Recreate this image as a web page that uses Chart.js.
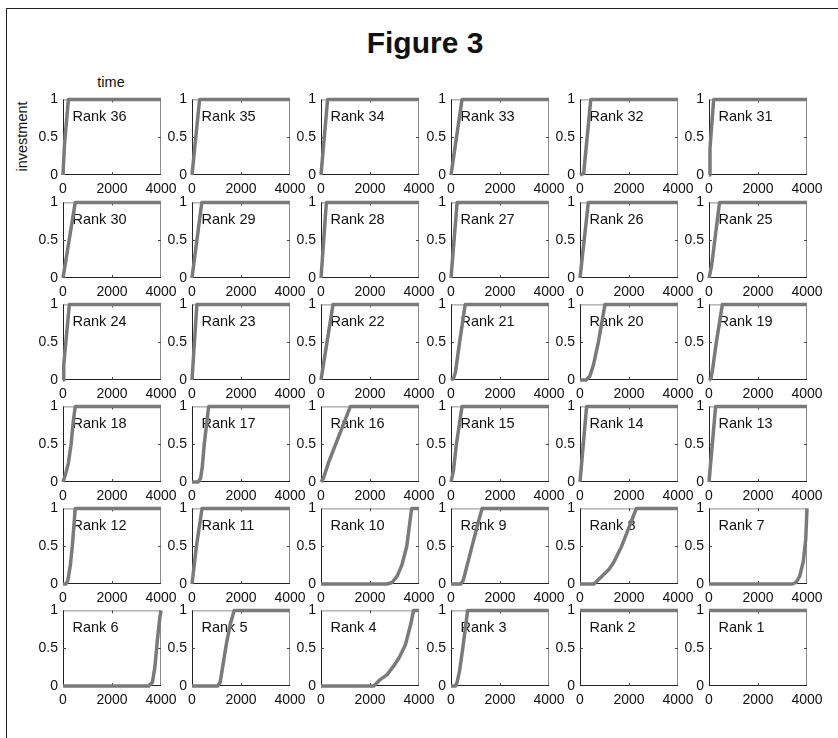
<!DOCTYPE html>
<html>
<head>
<meta charset="utf-8">
<script src="https://cdn.jsdelivr.net/npm/chart.js@4.4.1/dist/chart.umd.min.js"></script>
<style>
  html, body { margin: 0; padding: 0; background: #fff; }
  body { position: relative; width: 838px; height: 738px; overflow: hidden;
         font-family: "Liberation Sans", Arial, Helvetica, sans-serif; color: #111; }
  #frame { position: absolute; left: 6px; top: 8px; width: 900px; height: 800px;
           border-left: 1px solid #222; border-top: 1px solid #222; }
  #title { position: absolute; left: 0; width: 850px; top: 26px; line-height: 34px;
           text-align: center; font-weight: bold; font-size: 30px; }
  #xname { position: absolute; left: 80px; width: 62px; top: 74px; line-height: 17px;
           text-align: center; font-size: 14.5px; }
  #yname { position: absolute; left: -28px; width: 100px; top: 128px; line-height: 17px;
           text-align: center; font-size: 14.5px; transform: rotate(-90deg); }
  canvas { position: absolute; }
</style>
</head>
<body>
<div id="frame"></div>
<div id="title">Figure 3</div>
<div id="xname">time</div>
<div id="yname">investment</div>
<script>
// Investment level over time for each rank: [time, investment] pairs.
const rank36 = [[0,0],[60,0.4],[220,1],[4000,1]];
const rank35 = [[0,0],[310,1],[4000,1]];
const rank34 = [[0,0],[270,1],[4000,1]];
const rank33 = [[0,0],[450,1],[4000,1]];
const rank32 = [[0,0],[150,0.02],[440,1],[4000,1]];
const rank31 = [[0,0],[40,0.35],[190,1],[4000,1]];
const rank30 = [[0,0],[500,1],[4000,1]];
const rank29 = [[0,0],[400,1],[4000,1]];
const rank28 = [[0,0],[220,1],[4000,1]];
const rank27 = [[0,0],[250,1],[4000,1]];
const rank26 = [[0,0],[340,1],[4000,1]];
const rank25 = [[0,0],[100,0.15],[430,1],[4000,1]];
const rank24 = [[0,0],[30,0.2],[260,1],[4000,1]];
const rank23 = [[0,0],[200,1],[4000,1]];
const rank22 = [[0,0],[490,1],[4000,1]];
const rank21 = [[0,0],[100,0.02],[180,0.1],[350,0.5],[580,1],[4000,1]];
const rank20 = [[0,0],[250,0],[400,0.05],[550,0.2],[750,0.5],[1020,1],[4000,1]];
const rank19 = [[0,0],[80,0.02],[150,0.15],[300,0.5],[545,1],[4000,1]];
const rank18 = [[0,0],[100,0.1],[220,0.25],[330,0.5],[420,0.8],[500,1],[4000,1]];
const rank17 = [[0,0],[250,0],[350,0.05],[420,0.2],[500,0.5],[680,1],[4000,1]];
const rank16 = [[0,0],[100,0.05],[300,0.25],[600,0.5],[1200,1],[4000,1]];
const rank15 = [[0,0],[100,0.15],[220,0.5],[450,1],[4000,1]];
const rank14 = [[0,0],[270,1],[4000,1]];
const rank13 = [[0,0],[270,1],[4000,1]];
const rank12 = [[0,0],[120,0],[200,0.05],[300,0.25],[380,0.5],[500,1],[4000,1]];
const rank11 = [[0,0],[180,0.5],[410,1],[4000,1]];
const rank10 = [[0,0],[2700,0],[2900,0.02],[3100,0.1],[3300,0.25],[3500,0.5],[3700,1],[4000,1]];
const rank9  = [[0,0],[400,0],[500,0.05],[700,0.3],[900,0.55],[1100,0.8],[1270,1],[4000,1]];
const rank8  = [[0,0],[570,0],[1200,0.2],[1400,0.3],[1700,0.5],[2000,0.75],[2300,1],[4000,1]];
const rank7  = [[0,0],[3400,0],[3550,0.02],[3700,0.1],[3850,0.3],[3950,0.6],[4000,1]];
const rank6  = [[0,0],[3500,0],[3650,0.05],[3750,0.25],[3850,0.6],[3950,0.9],[4000,1]];
const rank5  = [[0,0],[1050,0],[1150,0.05],[1300,0.35],[1400,0.55],[1550,0.8],[1720,1],[4000,1]];
const rank4  = [[0,0],[2150,0],[2400,0.08],[2700,0.15],[3000,0.28],[3200,0.38],[3450,0.55],[3650,0.8],[3780,1],[4000,1]];
const rank3  = [[0,0],[180,0],[250,0.05],[350,0.2],[480,0.5],[580,0.75],[680,1],[4000,1]];
const rank2  = [[0,1],[4000,1]];
const rank1  = [[0,1],[4000,1]];

// Panel order, left to right then top to bottom.
const rankOrder = [36,35,34,33,32,31,30,29,28,27,26,25,24,23,22,21,20,19,18,17,16,15,14,13,12,11,10,9,8,7,6,5,4,3,2,1];
const rankSeries = [rank1,rank2,rank3,rank4,rank5,rank6,rank7,rank8,rank9,rank10,rank11,rank12,
  rank13,rank14,rank15,rank16,rank17,rank18,rank19,rank20,rank21,rank22,rank23,rank24,
  rank25,rank26,rank27,rank28,rank29,rank30,rank31,rank32,rank33,rank34,rank35,rank36];

const xTicks = [0, 2000, 4000];
const yTicks = [0, 0.5, 1];

// Grid geometry of the panels (plot-area corners, px).
const colLeft = [63, 192, 321, 451, 580, 709];
const rowTop  = [98, 201, 303, 405, 507, 609];
const plotW = 98, plotH = 77;
const padL = 45, padT = 12, padR = 22, padB = 26;

const FONT = '"Liberation Sans", Arial, Helvetica, sans-serif';

// Axes box with inward tick marks, plus the panel label.
const panelFrame = {
  id: 'panelFrame',
  beforeDatasetsDraw(chart, args, opts) {
    const { ctx, chartArea: a, scales: { x, y } } = chart;
    ctx.save();
    ctx.font = '14.5px ' + FONT;
    ctx.fillStyle = '#111';
    ctx.textBaseline = 'alphabetic';
    ctx.textAlign = 'left';
    ctx.fillText(opts.label, a.left + 9.5, a.top + 21.5);

    ctx.lineWidth = 1;
    ctx.strokeStyle = '#8c8c8c';
    ctx.beginPath();
    ctx.moveTo(a.left, a.top + 0.5); ctx.lineTo(a.right, a.top + 0.5);
    ctx.moveTo(a.right - 0.5, a.top); ctx.lineTo(a.right - 0.5, a.bottom);
    ctx.stroke();
    ctx.strokeStyle = '#222';
    ctx.beginPath();
    ctx.moveTo(a.left + 0.5, a.top); ctx.lineTo(a.left + 0.5, a.bottom);
    ctx.moveTo(a.left, a.bottom - 0.5); ctx.lineTo(a.right, a.bottom - 0.5);
    ctx.stroke();

    ctx.strokeStyle = '#444';
    ctx.beginPath();
    xTicks.slice(1, -1).forEach(v => {
      const px = Math.round(x.getPixelForValue(v)) + 0.5;
      ctx.moveTo(px, a.bottom); ctx.lineTo(px, a.bottom - 3);
      ctx.moveTo(px, a.top); ctx.lineTo(px, a.top + 3);
    });
    yTicks.slice(1, -1).forEach(v => {
      const py = Math.round(y.getPixelForValue(v)) + 0.5;
      ctx.moveTo(a.left, py); ctx.lineTo(a.left + 3, py);
      ctx.moveTo(a.right, py); ctx.lineTo(a.right - 3, py);
    });
    ctx.stroke();
    ctx.restore();
  }
};

rankOrder.forEach((rank, i) => {
  const r = Math.floor(i / 6), c = i % 6;
  const cv = document.createElement('canvas');
  const w = padL + plotW + padR, h = padT + plotH + padB;
  cv.width = w; cv.height = h;
  cv.style.left = (colLeft[c] - padL) + 'px';
  cv.style.top = (rowTop[r] - padT) + 'px';
  cv.style.width = w + 'px'; cv.style.height = h + 'px';
  document.body.appendChild(cv);

  const pts = rankSeries[rank - 1].map(p => ({ x: p[0], y: p[1] }));

  new Chart(cv, {
    type: 'line',
    data: {
      datasets: [{
        data: pts,
        borderColor: 'rgb(122,122,122)',
        borderWidth: 3.5,
        pointRadius: 0,
        tension: 0,
        borderJoinStyle: 'round',
        clip: false
      }]
    },
    options: {
      responsive: false,
      animation: false,
      devicePixelRatio: 1,
      layout: { padding: { left: 0, top: padT, right: padR, bottom: 0 } },
      plugins: {
        legend: { display: false },
        tooltip: { enabled: false },
        panelFrame: { label: 'Rank ' + rank }
      },
      scales: {
        x: {
          type: 'linear', min: 0, max: 4000,
          afterBuildTicks: s => { s.ticks = xTicks.map(v => ({ value: v })); },
          afterFit: s => { s.height = padB; },
          grid: { display: false, drawTicks: false },
          border: { display: false },
          ticks: {
            callback: v => String(v), maxRotation: 0, autoSkip: false,
            padding: 6, color: '#111', font: { family: FONT, size: 14 }
          }
        },
        y: {
          type: 'linear', min: 0, max: 1,
          afterBuildTicks: s => { s.ticks = yTicks.map(v => ({ value: v })); },
          afterFit: s => { s.width = padL; },
          grid: { display: false, drawTicks: false },
          border: { display: false },
          ticks: {
            callback: v => String(v),
            padding: 5, color: '#111', font: { family: FONT, size: 14 }
          }
        }
      }
    },
    plugins: [panelFrame]
  });
});
</script>
</body>
</html>
